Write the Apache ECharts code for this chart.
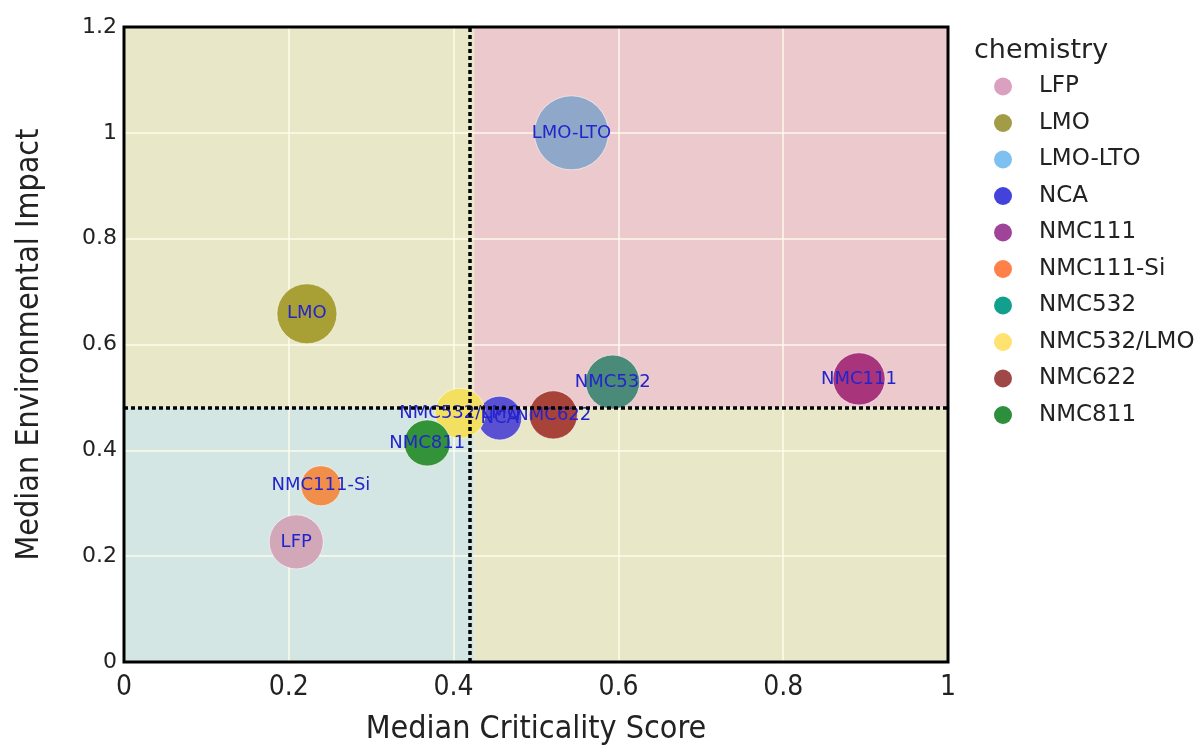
<!DOCTYPE html>
<html>
<head>
<meta charset="utf-8">
<script src="https://cdn.jsdelivr.net/npm/echarts@6/dist/echarts.min.js"></script>
<style>
html,body{margin:0;padding:0;background:#fff;}
#chart{width:1197px;height:745px;}
</style>
</head>
<body>
<div id="chart"></div>
<script>
// ---- data ----
const chemistries = ['LFP','LMO','LMO-LTO','NCA','NMC111','NMC111-Si','NMC532','NMC532/LMO','NMC622','NMC811'];
const criticality = [0.209, 0.222, 0.543, 0.456, 0.892, 0.239, 0.593, 0.408, 0.521, 0.368];
const impact      = [0.227, 0.658, 1.000, 0.461, 0.535, 0.333, 0.529, 0.470, 0.467, 0.414];
const bubbleValue = [7.3, 9.0, 13.7, 4.8, 6.8, 4.0, 7.3, 6.3, 5.8, 5.3];
const criticalityThreshold = 0.425;
const impactThreshold = 0.481;
const xTicks = [0, 0.2, 0.4, 0.6, 0.8, 1];
const yTicks = [0, 0.2, 0.4, 0.6, 0.8, 1, 1.2];

// ---- styles ----
const bubbleColors = ['#d2a8b9','#a8a035','#8fa8c9','#5a50d2','#a8347c','#f18f4a','#4a8a78','#f3e060','#a8433a','#339338'];
const legendColors = ['#dba0c0','#a39c47','#7ec0f0','#4343db','#a0449a','#ff8048','#12a08e','#ffe270','#a04848','#2d8e3c'];
const condensed = "'DejaVu Sans Condensed','Liberation Sans Narrow','DejaVu Sans',sans-serif";
const sans = "'DejaVu Sans',Verdana,sans-serif";

const series = chemistries.map((name, i) => ({
  name: name,
  type: 'scatter',
  z: 2,
  data: [[criticality[i], impact[i], bubbleValue[i]]],
  symbolSize: d => 20 * Math.sqrt(d[2]),
  itemStyle: { color: bubbleColors[i], borderColor: 'rgba(255,255,255,0.55)', borderWidth: 1, opacity: 1 },
  label: {
    show: true, position: 'inside', formatter: name,
    color: '#2424cc', fontFamily: sans, fontSize: 18
  },
  emphasis: { disabled: true }
}));

series.push({
  name: '__bg',
  type: 'scatter',
  data: [],
  silent: true,
  markArea: {
    silent: true,
    z: 1,
    data: [
      [{ coord: [0, impactThreshold], itemStyle: { color: '#e8e8c9' } }, { coord: [criticalityThreshold, 1.2] }],
      [{ coord: [criticalityThreshold, impactThreshold], itemStyle: { color: '#ecc9cd' } }, { coord: [1, 1.2] }],
      [{ coord: [0, 0], itemStyle: { color: '#d4e6e3' } }, { coord: [criticalityThreshold, impactThreshold] }],
      [{ coord: [criticalityThreshold, 0], itemStyle: { color: '#e8e8c9' } }, { coord: [1, impactThreshold] }]
    ]
  },
  markLine: {
    silent: true,
    symbol: 'none',
    z: 5,
    label: { show: false },
    lineStyle: { color: '#000', width: 3.5, type: [4, 3] },
    data: [
      { xAxis: criticalityThreshold },
      { yAxis: impactThreshold }
    ]
  }
});

const chart = echarts.init(document.getElementById('chart'));
chart.setOption({
  animation: false,
  backgroundColor: '#ffffff',
  title: {
    text: 'chemistry', left: 969, top: 32,
    textStyle: { fontFamily: sans, fontSize: 27, fontWeight: 'normal', color: '#222' }
  },
  legend: {
    data: chemistries.map((n, i) => ({ name: n, itemStyle: { color: legendColors[i], borderWidth: 0 } })),
    orient: 'vertical',
    left: 994, top: 75,
    padding: 0,
    itemWidth: 62, itemHeight: 18, itemGap: 13.5,
    icon: 'circle',
    selectedMode: false,
    textStyle: { fontFamily: sans, fontSize: 23, color: '#222', padding: [0,0,0,0] }
  },
  grid: {
    left: 124, right: 249, top: 27, bottom: 83,
    containLabel: false, outerBoundsMode: 'none',
    show: true, z: 10,
    backgroundColor: 'transparent', borderColor: '#000', borderWidth: 3
  },
  xAxis: {
    type: 'value', min: 0, max: 1, interval: 0.2, z: 1.5,
    name: 'Median Criticality Score', nameLocation: 'middle', nameGap: 52,
    nameTextStyle: { fontFamily: condensed, fontSize: 32, color: '#222' },
    axisLine: { show: false }, axisTick: { show: false },
    axisLabel: { fontFamily: condensed, fontSize: 28, color: '#222', margin: 12,
      formatter: v => xTicks.includes(+v.toFixed(2)) ? String(+v.toFixed(2)) : '' },
    splitLine: { show: true, lineStyle: { color: 'rgba(255,253,235,0.9)', width: 1.5 } }
  },
  yAxis: {
    type: 'value', min: 0, max: 1.2, interval: 0.2, z: 1.5,
    name: 'Median Environmental Impact', nameLocation: 'middle', nameGap: 78,
    nameTextStyle: { fontFamily: condensed, fontSize: 32, color: '#222' },
    axisLine: { show: false }, axisTick: { show: false },
    axisLabel: { fontFamily: sans, fontSize: 22, color: '#222', margin: 7,
      formatter: v => yTicks.includes(+v.toFixed(2)) ? String(+v.toFixed(2)) : '' },
    splitLine: { show: true, lineStyle: { color: 'rgba(255,253,235,0.9)', width: 1.5 } }
  },
  series: series
});
</script>
</body>
</html>
